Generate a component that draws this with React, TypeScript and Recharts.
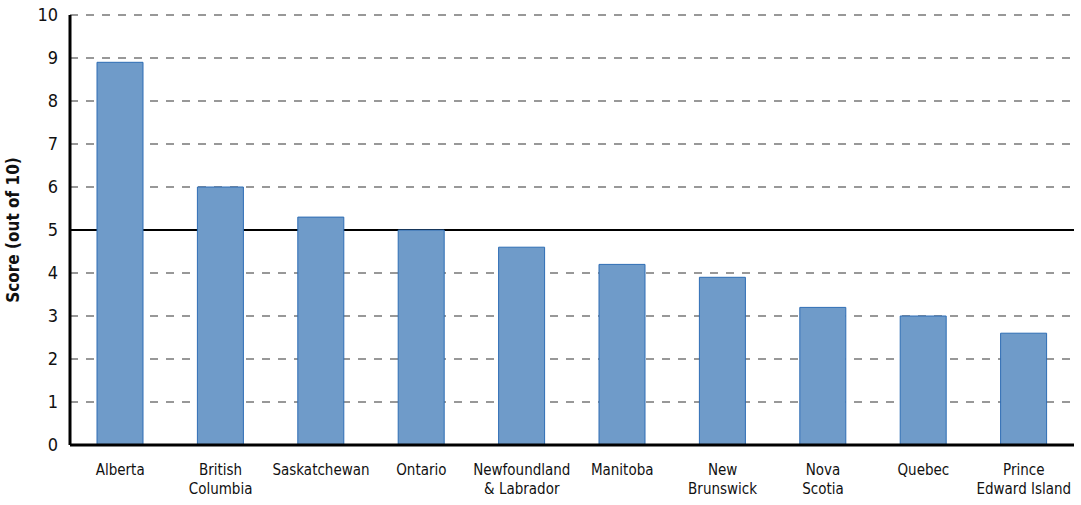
import { BarChart, Bar, XAxis, YAxis, CartesianGrid, ReferenceLine } from 'recharts'

const provinces = [
  'Alberta',
  'British\nColumbia',
  'Saskatchewan',
  'Ontario',
  'Newfoundland\n& Labrador',
  'Manitoba',
  'New\nBrunswick',
  'Nova\nScotia',
  'Quebec',
  'Prince\nEdward Island',
]
const scores = [8.9, 6.0, 5.3, 5.0, 4.6, 4.2, 3.9, 3.2, 3.0, 2.6]
const yTicks = [0, 1, 2, 3, 4, 5, 6, 7, 8, 9, 10]

const FONT = "'Liberation Sans Narrow', 'DejaVu Sans Condensed', 'Roboto Condensed', sans-serif"

const data = provinces.map((name, i) => ({ name, score: scores[i] }))

function ProvinceTick({ x, y, payload }: any) {
  const lines = String(payload.value).split('\n')
  return (
    <text x={x} y={y} textAnchor="middle" fill="#111" fontSize={15} fontFamily={FONT}>
      {lines.map((line, i) => (
        <tspan key={i} x={x} dy={i === 0 ? 22 : 19}>
          {line}
        </tspan>
      ))}
    </text>
  )
}

export default function App() {
  return (
    <div>
      <style>{'body{margin:0}'}</style>
      <BarChart
        width={1081}
        height={505}
        data={data}
        margin={{ top: 15, right: 7, bottom: 5, left: 10 }}
        barSize={46}
      >
        <CartesianGrid vertical={false} stroke="#777" strokeDasharray="8 8" strokeWidth={1.5} />
        {/* the 5-point midline sits behind the bars */}
        <ReferenceLine y={5} stroke="#000" strokeWidth={2} zIndex={-50} />
        <XAxis
          dataKey="name"
          interval={0}
          height={55}
          tick={<ProvinceTick />}
          tickLine={false}
          axisLine={{ stroke: '#000', strokeWidth: 3 }}
        />
        <YAxis
          width={60}
          domain={[0, 10]}
          ticks={yTicks}
          interval={0}
          tickLine={false}
          tickSize={0}
          tickMargin={12}
          axisLine={{ stroke: '#000', strokeWidth: 3 }}
          tick={{ fill: '#111', fontSize: 18, fontFamily: FONT }}
          label={{
            value: 'Score (out of 10)',
            angle: -90,
            position: 'insideLeft',
            dx: -2,
            style: { textAnchor: 'middle', fontWeight: 'bold', fontSize: 17, fill: '#111', fontFamily: FONT },
          }}
        />
        <Bar dataKey="score" fill="#6F9BC9" stroke="#2E6DB4" strokeWidth={1} isAnimationActive={false} />
      </BarChart>
    </div>
  )
}
